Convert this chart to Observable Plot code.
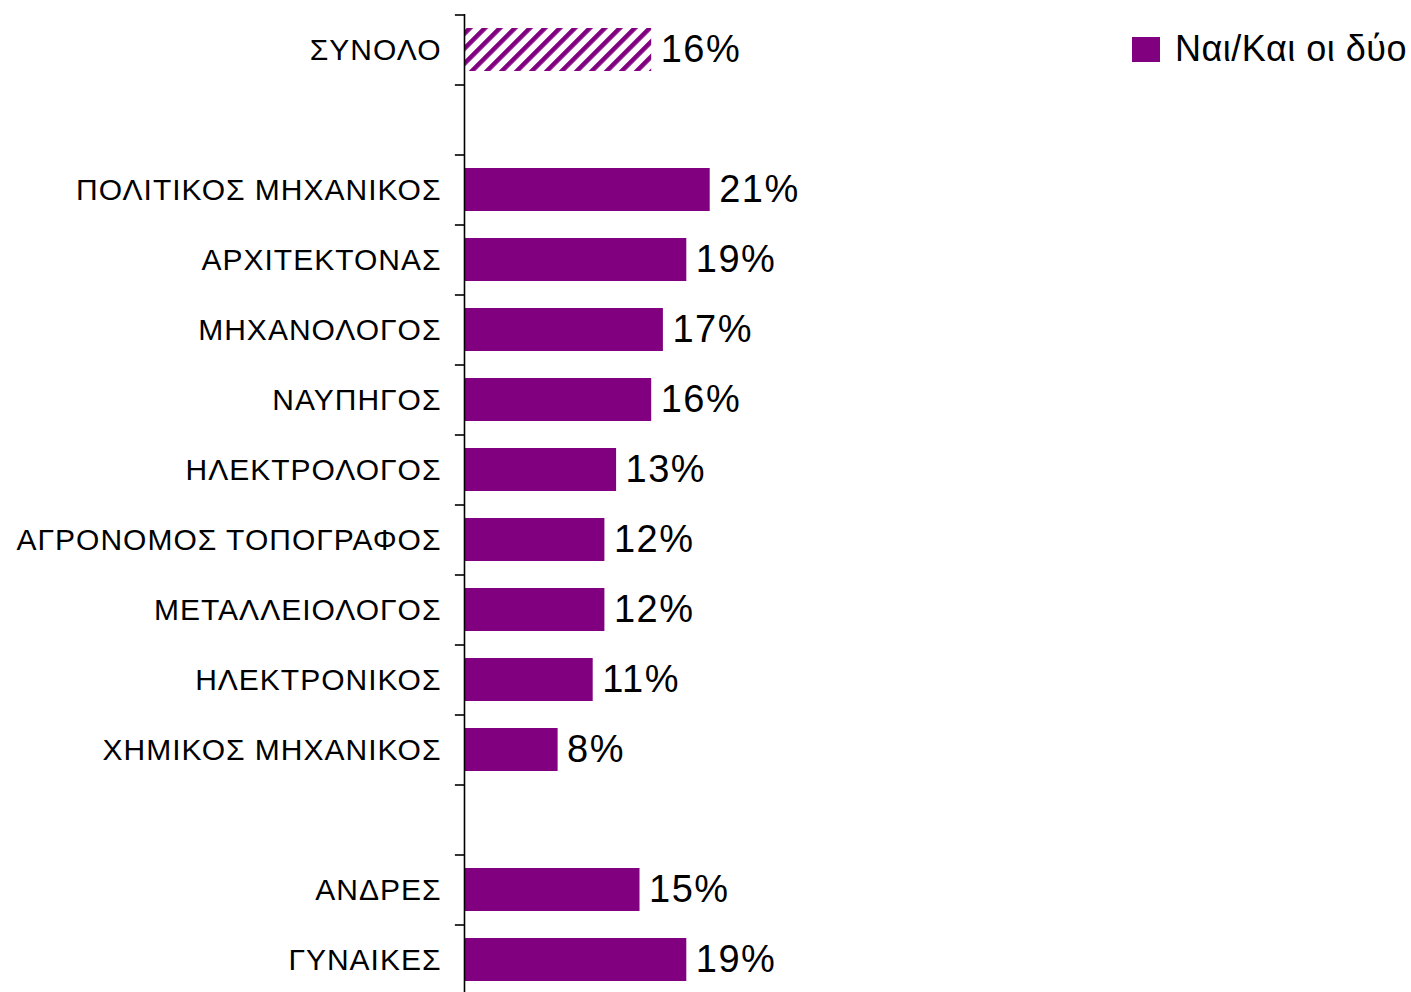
<!DOCTYPE html>
<html>
<head>
<meta charset="utf-8">
<script src="https://cdn.jsdelivr.net/npm/d3@7"></script>
<script src="https://cdn.jsdelivr.net/npm/@observablehq/plot@0.6"></script>
<style>
  html, body { margin: 0; padding: 0; background: #fff; overflow: hidden; }
  #wrap { position: relative; width: 1411px; height: 992px; overflow: hidden; font-family: Arial, "Liberation Sans", sans-serif; }
  #legend-swatch { position: absolute; left: 1132px; top: 37px; width: 28px; height: 25px; background: #800080; }
  #legend-text { position: absolute; left: 1175px; top: 31px; font-size: 36px; line-height: 36px; color: #000; white-space: nowrap; letter-spacing: 0.5px; }
</style>
</head>
<body>
<div id="wrap">
  <div id="chart"></div>
  <div id="legend-swatch"></div>
  <div id="legend-text">Ναι/Και οι δύο</div>
</div>
<script>
// Row categories (blank rows are spacers between groups)
const categories = [
  "ΣΥΝΟΛΟ",
  " ",
  "ΠΟΛΙΤΙΚΟΣ ΜΗΧΑΝΙΚΟΣ",
  "ΑΡΧΙΤΕΚΤΟΝΑΣ",
  "ΜΗΧΑΝΟΛΟΓΟΣ",
  "ΝΑΥΠΗΓΟΣ",
  "ΗΛΕΚΤΡΟΛΟΓΟΣ",
  "ΑΓΡΟΝΟΜΟΣ ΤΟΠΟΓΡΑΦΟΣ",
  "ΜΕΤΑΛΛΕΙΟΛΟΓΟΣ",
  "ΗΛΕΚΤΡΟΝΙΚΟΣ",
  "ΧΗΜΙΚΟΣ ΜΗΧΑΝΙΚΟΣ",
  "  ",
  "ΑΝΔΡΕΣ",
  "ΓΥΝΑΙΚΕΣ"
];
// Percent "Ναι/Και οι δύο"
const values = [16, null, 21, 19, 17, 16, 13, 12, 12, 11, 8, null, 15, 19];
const totalCategory = "ΣΥΝΟΛΟ";
const seriesName = "Ναι/Και οι δύο";

const rows = categories.map((c, i) => ({cat: c, value: values[i]}));
const barRows = rows.filter(d => d.value != null);
const totalRows = barRows.filter(d => d.cat === totalCategory);
const otherRows = barRows.filter(d => d.cat !== totalCategory);

const purple = "#800080";

const chart = Plot.plot({
  width: 1411,
  height: 1000,
  marginTop: 14,
  marginBottom: 6,
  marginLeft: 464,
  marginRight: 11,
  style: {fontFamily: "Arial, 'Liberation Sans', sans-serif", background: "#fff", color: "#000"},
  x: {domain: [0, 80], axis: null},
  y: {domain: categories, paddingInner: 0.386, paddingOuter: 0.193, label: null},
  marks: [
    Plot.barX(otherRows, {y: "cat", x: "value", fill: purple}),
    Plot.barX(totalRows, {y: "cat", x: "value", fill: "url(#hatch)"}),
    Plot.text(barRows, {
      y: "cat", x: "value", text: d => `${d.value}%`,
      textAnchor: "start", dx: 9, fontSize: 38, fill: "#000"
    }),
    // tick marks between categories
    Plot.ruleY(categories, {y: d => d, x1: -0.78, x2: 0, dy: -35, stroke: "#000", strokeWidth: 1.6}),
    Plot.ruleX([0], {stroke: "#000", strokeWidth: 1.6}),
    Plot.axisY({
      tickSize: 0, tickPadding: 23, fontSize: 30,
      tickFormat: d => d.trim(), label: null
    })
  ]
});

// hatch pattern for the total bar
const ns = "http://www.w3.org/2000/svg";
const defs = document.createElementNS(ns, "defs");
defs.innerHTML = `<pattern id="hatch" patternUnits="userSpaceOnUse" width="10.6" height="10.6" patternTransform="rotate(45)">
  <rect width="10.6" height="10.6" fill="#fff"></rect>
  <rect width="4.6" height="10.6" fill="${purple}"></rect>
</pattern>`;
chart.insertBefore(defs, chart.firstChild);

// spacing of the text to mimic the original rendering
d3.select(chart).selectAll('g[aria-label="y-axis tick label"] text').style("letter-spacing", "1px");
d3.select(chart).selectAll('g[aria-label="text"] text').style("letter-spacing", "1.5px");

document.getElementById("chart").appendChild(chart);
</script>
</body>
</html>
